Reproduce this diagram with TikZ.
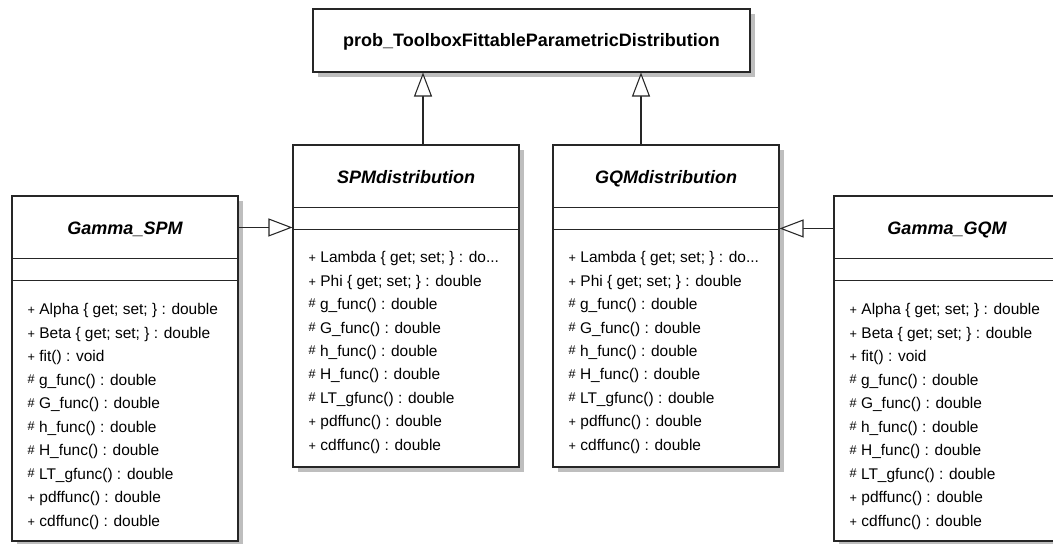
\documentclass[tikz,border=0pt]{standalone}
\usepackage{fontspec}
\setmainfont{Liberation Sans}
\usetikzlibrary{positioning,arrows.meta}

\definecolor{shadowgray}{RGB}{190,190,190}

\newcommand{\umlpub}{{\fontsize{9.5}{10}\selectfont+}\ }
\newcommand{\umlprot}{\raisebox{1.2pt}{\fontsize{9.5}{10}\selectfont\#}\ }

\tikzset{
  classbox/.style={rectangle, draw=black!85, line width=0.8pt, fill=white, minimum width=169.5pt,
    preaction={draw=none, fill=shadowgray, transform canvas={xshift=3.75pt, yshift=-3.75pt}}},
  classname/.style={anchor=base, font=\fontsize{13.5}{16}\selectfont\bfseries\itshape},
  members/.style={align=left, inner sep=0pt, font=\fontsize{11.6}{17.6}\selectfont},
  sepline/.style={draw=black!85, line width=0.8pt},
  gen/.style={draw=black!85, line width=0.8pt, -{Triangle[length=18pt, width=13.5pt, fill=white]}}
}

\begin{document}
\begin{tikzpicture}[x=0.75pt, y=-0.75pt]
\useasboundingbox (0,0) rectangle (1053,543);

% base class
\node[classbox, minimum width=327.75pt, minimum height=47.25pt, text height=9.7pt, text depth=0pt,
  font=\fontsize{13.5}{16}\selectfont\bfseries] (top) at (531.5, 40.5) {prob\_ToolboxFittableParametricDistribution};

% class boxes
\node[classbox, minimum height=241.5pt] (spm) at (406, 306) {};
\node[classbox, minimum height=241.5pt] (gqm) at (666, 306) {};
\node[classbox, minimum height=258.75pt] (gspm) at (125, 368.5) {};
\node[classbox, minimum height=258.75pt] (ggqm) at (947, 368.5) {};

\foreach \c in {spm, gqm, gspm, ggqm} {
  \draw[sepline] ([yshift=-47.25pt]\c.north west) -- ([yshift=-47.25pt]\c.north east);
  \draw[sepline] ([yshift=-64pt]\c.north west) -- ([yshift=-64pt]\c.north east);
}

% names
\node[classname] (spmname) at ([yshift=-29pt]spm.north) {SPMdistribution};
\node[classname] (gqmname) at ([yshift=-29pt]gqm.north) {GQMdistribution};
\node[classname] (gspmname) at ([yshift=-29pt]gspm.north) {Gamma\_SPM};
\node[classname] (ggqmname) at ([yshift=-29pt]ggqm.north) {Gamma\_GQM};

% members
\node[members, below right=80pt and 12pt of spm.north west] (spmmembers) {%
\umlpub Lambda \{ get; set; \} : do...\\
\umlpub Phi \{ get; set; \} : double\\
\umlprot g\_func() : double\\
\umlprot G\_func() : double\\
\umlprot h\_func() : double\\
\umlprot H\_func() : double\\
\umlprot LT\_gfunc() : double\\
\umlpub pdffunc() : double\\
\umlpub cdffunc() : double};
\node[members, below right=80pt and 12pt of gqm.north west] (gqmmembers) {%
\umlpub Lambda \{ get; set; \} : do...\\
\umlpub Phi \{ get; set; \} : double\\
\umlprot g\_func() : double\\
\umlprot G\_func() : double\\
\umlprot h\_func() : double\\
\umlprot H\_func() : double\\
\umlprot LT\_gfunc() : double\\
\umlpub pdffunc() : double\\
\umlpub cdffunc() : double};
\node[members, below right=81pt and 12pt of gspm.north west] (gspmmembers) {%
\umlpub Alpha \{ get; set; \} : double\\
\umlpub Beta \{ get; set; \} : double\\
\umlpub fit() : void\\
\umlprot g\_func() : double\\
\umlprot G\_func() : double\\
\umlprot h\_func() : double\\
\umlprot H\_func() : double\\
\umlprot LT\_gfunc() : double\\
\umlpub pdffunc() : double\\
\umlpub cdffunc() : double};
\node[members, below right=81pt and 12pt of ggqm.north west] (ggqmmembers) {%
\umlpub Alpha \{ get; set; \} : double\\
\umlpub Beta \{ get; set; \} : double\\
\umlpub fit() : void\\
\umlprot g\_func() : double\\
\umlprot G\_func() : double\\
\umlprot h\_func() : double\\
\umlprot H\_func() : double\\
\umlprot LT\_gfunc() : double\\
\umlpub pdffunc() : double\\
\umlpub cdffunc() : double};

% generalizations
\coordinate (spmup) at ([xshift=12.75pt]spm.north);
\draw[gen] (spmup) -- (spmup |- top.south);
\coordinate (gqmup) at ([xshift=-18.75pt]gqm.north);
\draw[gen] (gqmup) -- (gqmup |- top.south);
\coordinate (gspmout) at ([yshift=-24pt]gspm.north east);
\draw[gen] (gspmout) -- (gspmout -| spm.west);
\coordinate (ggqmout) at ([yshift=-24.75pt]ggqm.north west);
\draw[gen] (ggqmout) -- (ggqmout -| gqm.east);

\end{tikzpicture}
\end{document}
